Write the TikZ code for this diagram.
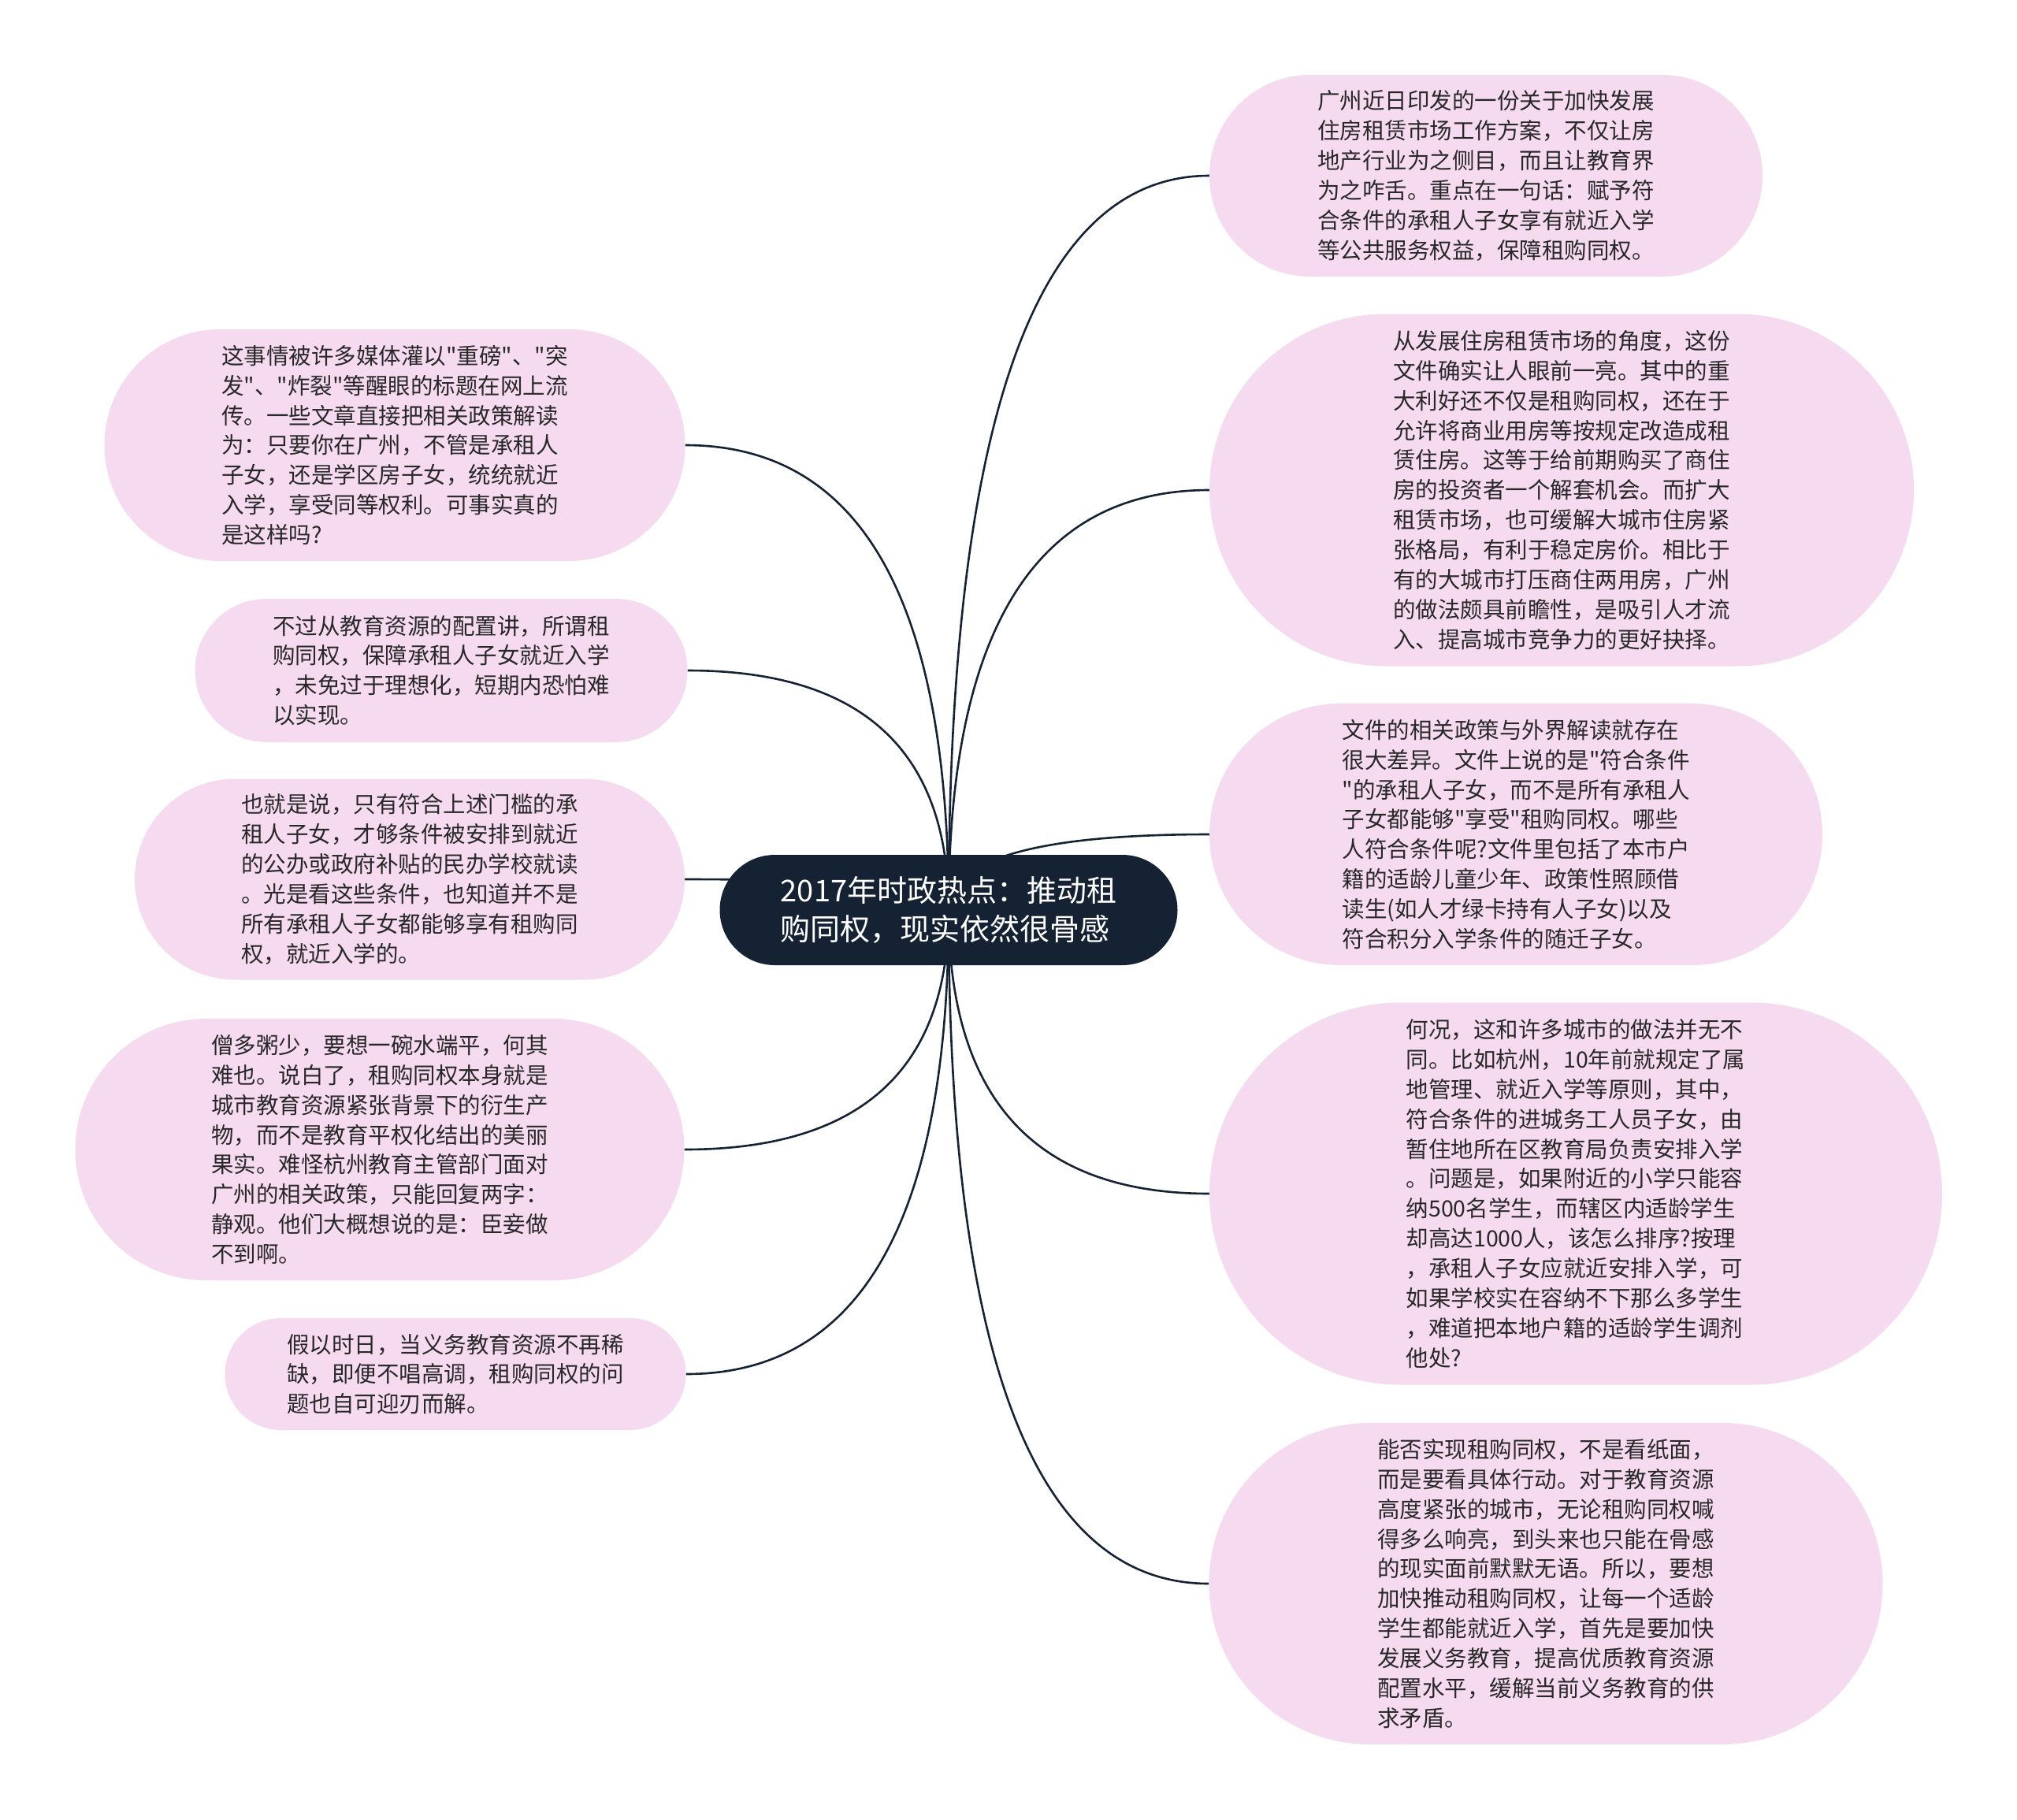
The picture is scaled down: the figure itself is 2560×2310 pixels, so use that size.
\documentclass[tikz,border=0pt]{standalone}
\usepackage{fontspec}
\setmainfont{Noto Sans CJK SC}[Ligatures=TeXOff]
\usetikzlibrary{shapes.misc,calc}
\definecolor{pinkbg}{RGB}{245,218,240}
\definecolor{rootbg}{RGB}{21,34,51}
\definecolor{txt}{RGB}{40,40,40}
\pgfdeclarelayer{back}
\pgfdeclarelayer{links}
\pgfsetlayers{back,links,main}
\tikzset{
  leaf/.style={rounded rectangle, fill=pinkbg, text=txt, align=left, inner sep=0pt,
    font=\fontsize{28.5}{37.9}\selectfont},
  rootnode/.style={rounded rectangle, fill=rootbg, text=white, align=left, inner sep=0pt,
    font=\fontsize{38}{49}\selectfont},
  link/.style={draw=rootbg, line width=2.6pt},
}
\begin{document}
\begin{tikzpicture}[x=1pt,y=-1pt]
\begin{pgfonlayer}{back}
\fill[white] (0,0) rectangle (2560,2310);
\end{pgfonlayer}
\useasboundingbox (0,0) rectangle (2560,2310);

\node[rootnode, minimum width=581pt, minimum height=140pt] (root) at (1204,1155)
 {2017年时政热点：推动租\\购同权，现实依然很骨感};

% right side
\node[leaf, minimum width=702pt, minimum height=256pt] (r1) at (1886,223)
 {广州近日印发的一份关于加快发展\\住房租赁市场工作方案，不仅让房\\地产行业为之侧目，而且让教育界\\为之咋舌。重点在一句话：赋予符\\合条件的承租人子女享有就近入学\\等公共服务权益，保障租购同权。};
\node[leaf, minimum width=894pt, minimum height=447pt] (r2) at (1982,622)
 {从发展住房租赁市场的角度，这份\\文件确实让人眼前一亮。其中的重\\大利好还不仅是租购同权，还在于\\允许将商业用房等按规定改造成租\\赁住房。这等于给前期购买了商住\\房的投资者一个解套机会。而扩大\\租赁市场，也可缓解大城市住房紧\\张格局，有利于稳定房价。相比于\\有的大城市打压商住两用房，广州\\的做法颇具前瞻性，是吸引人才流\\入、提高城市竞争力的更好抉择。};
\node[leaf, minimum width=778pt, minimum height=332pt] (r3) at (1924,1059)
 {文件的相关政策与外界解读就存在\\很大差异。文件上说的是"符合条件\\"的承租人子女，而不是所有承租人\\子女都能够"享受"租购同权。哪些\\人符合条件呢?文件里包括了本市户\\籍的适龄儿童少年、政策性照顾借\\读生(如人才绿卡持有人子女)以及\\符合积分入学条件的随迁子女。};
\node[leaf, minimum width=930pt, minimum height=485pt] (r4) at (2000,1515)
 {何况，这和许多城市的做法并无不\\同。比如杭州，10年前就规定了属\\地管理、就近入学等原则，其中，\\符合条件的进城务工人员子女，由\\暂住地所在区教育局负责安排入学\\。问题是，如果附近的小学只能容\\纳500名学生，而辖区内适龄学生\\却高达1000人，该怎么排序?按理\\，承租人子女应就近安排入学，可\\如果学校实在容纳不下那么多学生\\，难道把本地户籍的适龄学生调剂\\他处?};
\node[leaf, minimum width=855pt, minimum height=408pt] (r5) at (1962,2010)
 {能否实现租购同权，不是看纸面，\\而是要看具体行动。对于教育资源\\高度紧张的城市，无论租购同权喊\\得多么响亮，到头来也只能在骨感\\的现实面前默默无语。所以，要想\\加快推动租购同权，让每一个适龄\\学生都能就近入学，首先是要加快\\发展义务教育，提高优质教育资源\\配置水平，缓解当前义务教育的供\\求矛盾。};

% left side
\node[leaf, minimum width=737pt, minimum height=294pt] (l1) at (501,565)
 {这事情被许多媒体灌以"重磅"、"突\\发"、"炸裂"等醒眼的标题在网上流\\传。一些文章直接把相关政策解读\\为：只要你在广州，不管是承租人\\子女，还是学区房子女，统统就近\\入学，享受同等权利。可事实真的\\是这样吗?};
\node[leaf, minimum width=625pt, minimum height=182pt] (l2) at (560,851)
 {不过从教育资源的配置讲，所谓租\\购同权，保障承租人子女就近入学\\，未免过于理想化，短期内恐怕难\\以实现。};
\node[leaf, minimum width=698pt, minimum height=255pt] (l3) at (520,1116)
 {也就是说，只有符合上述门槛的承\\租人子女，才够条件被安排到就近\\的公办或政府补贴的民办学校就读\\。光是看这些条件，也知道并不是\\所有承租人子女都能够享有租购同\\权，就近入学的。};
\node[leaf, minimum width=773pt, minimum height=332pt] (l4) at (482,1459)
 {僧多粥少，要想一碗水端平，何其\\难也。说白了，租购同权本身就是\\城市教育资源紧张背景下的衍生产\\物，而不是教育平权化结出的美丽\\果实。难怪杭州教育主管部门面对\\广州的相关政策，只能回复两字：\\静观。他们大概想说的是：臣妾做\\不到啊。};
\node[leaf, minimum width=585pt, minimum height=142pt] (l5) at (578,1744)
 {假以时日，当义务教育资源不再稀\\缺，即便不唱高调，租购同权的问\\题也自可迎刃而解。};

\begin{pgfonlayer}{links}
\foreach \n in {r1,r2,r3,r4,r5}{
  \draw[link] (root.center) .. controls ($(root.center)!0.6667!(root.center |- \n.west)$)
    and ($(\n.west)!0.6667!(root.center |- \n.west)$) .. (\n.west);
}
\foreach \n in {l1,l2,l3,l4,l5}{
  \draw[link] (root.center) .. controls ($(root.center)!0.6667!(root.center |- \n.east)$)
    and ($(\n.east)!0.6667!(root.center |- \n.east)$) .. (\n.east);
}
\end{pgfonlayer}
\end{tikzpicture}
\end{document}
